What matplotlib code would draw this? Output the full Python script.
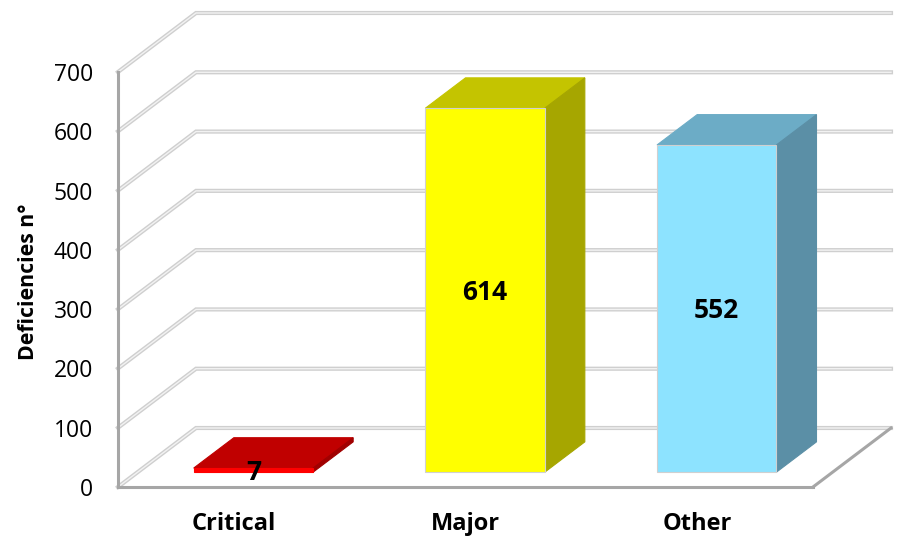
import matplotlib
matplotlib.use("Agg")
import matplotlib.pyplot as plt
from matplotlib.patches import Polygon

categories = ["Critical", "Major", "Other"]
values = [7, 614, 552]
front_colors = ["#ff0000", "#ffff00", "#8de3ff"]
top_colors = ["#c00000", "#c4c400", "#6cacc6"]
side_colors = ["#a00000", "#a6a600", "#5b8fa6"]
yticks = [0, 100, 200, 300, 400, 500, 600, 700]

plt.rcParams["font.family"] = ["Open Sans", "DejaVu Sans"]

W, H = 897, 537
fig = plt.figure(figsize=(W / 100, H / 100), dpi=100)
ax = fig.add_axes([118 / W, 1 - 487 / H, 695 / W, 415 / H])
ax.set_xlim(-0.5, 2.5)
ax.set_ylim(0, 700)

# fake depth, in data units (78 px across, 59 px up for the whole floor)
depth_x = 78 / (695 / 3)
depth_y = 59 / (415 / 700)
bar_w = 0.515


def proj(x, v, d):
    return x + d * depth_x, v + d * depth_y


def poly(pts, color, z, edge=None):
    ax.add_patch(Polygon([proj(*p) for p in pts], closed=True, facecolor=color,
                         edgecolor=edge if edge else color, lw=0.8, zorder=z, clip_on=False))


# walls
for t in yticks:
    xs, ys = zip(proj(-0.5, t, 0), proj(-0.5, t, 1), proj(2.5, t, 1))
    ax.plot(xs, ys, color="#cfcfcf", lw=3, zorder=1, clip_on=False, solid_joinstyle="miter")
    ax.plot(xs, ys, color="#f2f2f2", lw=1, zorder=1.1, clip_on=False, solid_joinstyle="miter")

# floor edge on the right
xs, ys = zip(proj(2.5, 0, 0), proj(2.5, 0, 1))
ax.plot(xs, ys, color="#a6a6a6", lw=2.2, zorder=1.5, clip_on=False)

# bars
for i, v in enumerate(values):
    l = i - bar_w / 2
    r = i + bar_w / 2
    d0 = 0.25
    d1 = 0.765
    poly([(l, v, d0), (r, v, d0), (r, v, d1), (l, v, d1)], top_colors[i], 3)
    poly([(r, 0, d0), (r, 0, d1), (r, v, d1), (r, v, d0)], side_colors[i], 3)
    poly([(l, 0, d0), (r, 0, d0), (r, v, d0), (l, v, d0)], front_colors[i], 4, "#d0d0d0" if v > 100 else None)
    ax.annotate(str(v), proj(i, v / 2, d0), xytext=(0, -1.5), textcoords="offset points",
                ha="center", va="center", fontsize=19, fontweight="bold",
                color="black", zorder=6, annotation_clip=False)

for s in ["top", "right"]:
    ax.spines[s].set_visible(False)
for s in ["left", "bottom"]:
    ax.spines[s].set_color("#a6a6a6")
    ax.spines[s].set_linewidth(2.2)
    ax.spines[s].set_zorder(2)

ax.set_yticks(yticks)
ax.set_xticks(range(len(categories)))
ax.set_xticklabels(categories, fontsize=17, fontweight="bold")
ax.tick_params(axis="both", length=0)
ax.tick_params(axis="y", labelsize=16.5, pad=18)
ax.tick_params(axis="x", pad=18)
ax.patch.set_alpha(0)

fig.text(28 / W, 1 - 282 / H, "Deficiencies n°", rotation=90, ha="center", va="center",
         fontsize=15.3, fontweight="bold")

fig.savefig("out.png", dpi=100)
